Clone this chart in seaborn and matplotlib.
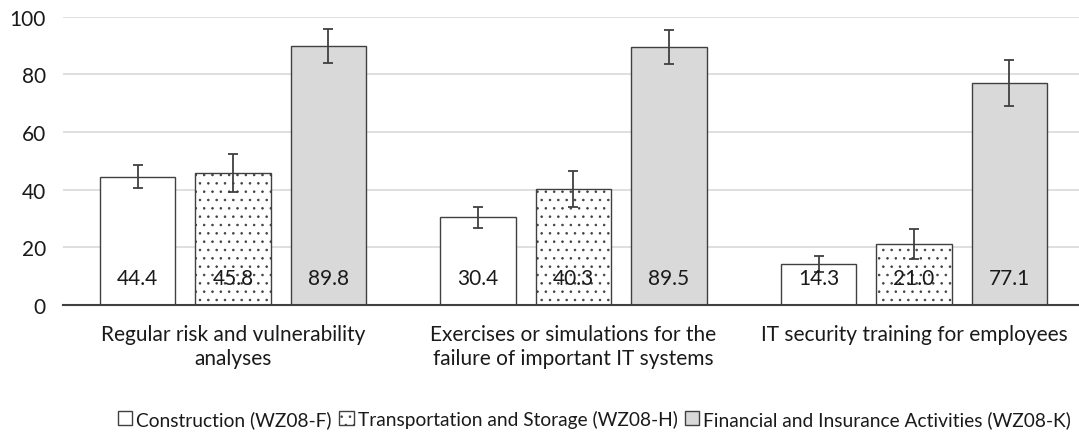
import matplotlib
matplotlib.use("Agg")
import matplotlib.pyplot as plt
import seaborn as sns
import pandas as pd

categories = ["Regular risk and vulnerability\nanalyses",
              "Exercises or simulations for the\nfailure of important IT systems",
              "IT security training for employees"]
sectors = ["Construction (WZ08-F)",
           "Transportation and Storage (WZ08-H)",
           "Financial and Insurance Activities (WZ08-K)"]
construction = [44.4, 30.4, 14.3]
transport = [45.8, 40.3, 21.0]
financial = [89.8, 89.5, 77.1]
err_construction = [4.0, 3.6, 2.8]
err_transport = [6.5, 6.3, 5.2]
err_financial = [6.0, 5.9, 8.0]
yticks = [0, 20, 40, 60, 80, 100]

series = [construction, transport, financial]
errors = [err_construction, err_transport, err_financial]
colors = ["#ffffff", "#ffffff", "#d9d9d9"]

rows = []
for s, vals in zip(sectors, series):
    for c, v in zip(categories, vals):
        rows.append({"category": c, "sector": s, "value": v})
df = pd.DataFrame(rows)

sns.set_theme(style="white")
plt.rcParams['font.family'] = ['Lato', 'DejaVu Sans']
plt.rcParams['hatch.color'] = '#8c8c8c'
plt.rcParams['hatch.linewidth'] = 0.6

fig = plt.figure(figsize=(10.79, 4.35), dpi=100)
ax = fig.add_axes([0.058, 0.297, 0.947, 0.662])

sns.barplot(data=df, x="category", y="value", hue="sector",
            order=categories, hue_order=sectors, palette=colors,
            width=0.84, gap=0.21, edgecolor="#404040", linewidth=1.0,
            errorbar=None, legend=False, ax=ax, zorder=2)
ax.set_xlim(-0.5, 2.5)

bar_containers = list(ax.containers)
for i, cont in enumerate(bar_containers):
    xs, ys = [], []
    for p in cont.patches:
        if i == 1:
            p.set_hatch('..')
        xs.append(p.get_x() + p.get_width() / 2)
        ys.append(p.get_height())
    ax.errorbar(xs, ys, yerr=errors[i], fmt='none', ecolor='#404040',
                elinewidth=1.3, capsize=3.6, capthick=1.3, zorder=3)
    for x, v in zip(xs, series[i]):
        ax.text(x, 9.3, f"{v:.1f}", ha='center', va='center',
                fontsize=15, color='#1a1a1a', zorder=4)

ax.set_ylim(0, 100)
ax.set_yticks(yticks)
ax.yaxis.grid(True, color='#d9d9d9', linewidth=1.2)
ax.set_axisbelow(True)
ax.set_xlabel("")
ax.set_ylabel("")
for sp in ['left', 'right', 'top']:
    ax.spines[sp].set_visible(False)
ax.spines['bottom'].set_color('#404040')
ax.spines['bottom'].set_linewidth(1.5)
ax.tick_params(axis='y', length=0, pad=12, labelsize=15, labelcolor='#1a1a1a')
ax.tick_params(axis='x', length=0, pad=14, labelsize=15, labelcolor='#1a1a1a')
for lbl in ax.get_xticklabels():
    lbl.set_linespacing(1.25)

handles = [cont.patches[0] for cont in bar_containers]
fig.legend(handles=handles, labels=sectors, loc='center',
           bbox_to_anchor=(0.551, 0.035), ncol=3, frameon=False,
           fontsize=13.8, handlelength=0.75, handleheight=0.75,
           handletextpad=0.2, columnspacing=0.4, labelcolor='#1a1a1a')

fig.savefig("out.png", dpi=100)
